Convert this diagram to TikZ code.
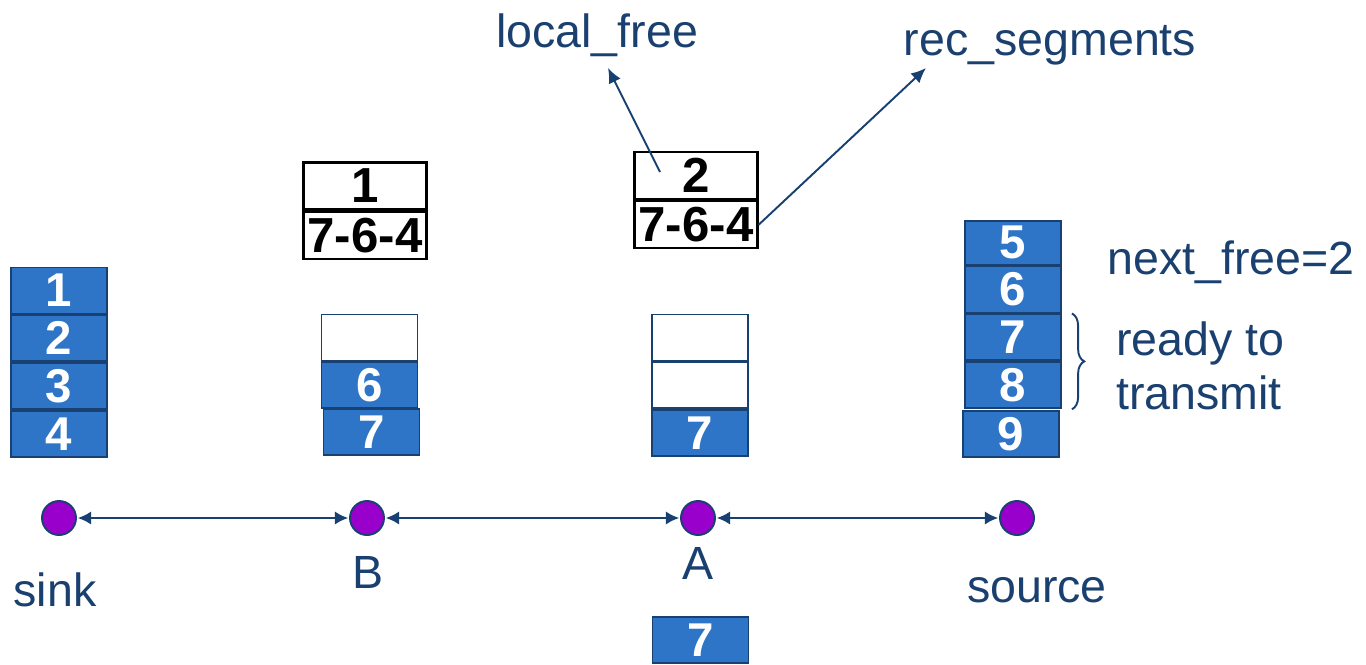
\documentclass[tikz,border=0pt]{standalone}
\usepackage{fontspec}
\setmainfont{Liberation Sans}
\usetikzlibrary{arrows.meta,decorations.pathreplacing,positioning}

\definecolor{segblue}{RGB}{46,117,200}
\definecolor{segedge}{RGB}{24,64,112}
\definecolor{inkblue}{RGB}{26,64,112}
\definecolor{hostpurple}{RGB}{153,0,204}

\begin{document}
\begin{tikzpicture}[
  x=0.02cm, y=-0.02cm,
  node distance=0pt,
  seg/.style={draw=segedge, line width=1.1pt, fill=segblue, text=white,
    minimum width=1.92cm, minimum height=0.92cm, inner sep=0pt,
    font=\fontsize{27}{27}\selectfont\bfseries},
  slot/.style={seg, fill=white},
  tag/.style={draw=black, line width=1.3pt, fill=white, text=black,
    minimum width=2.46cm, minimum height=0.94cm, inner sep=0pt,
    font=\fontsize{28}{28}\selectfont\bfseries},
  host/.style={circle, draw=segedge, line width=1.1pt, fill=hostpurple,
    minimum size=0.68cm, inner sep=0pt},
  lbl/.style={text=inkblue, inner sep=0pt, font=\fontsize{26.5}{31}\selectfont},
  link/.style={{Latex[length=7.5pt,width=7.5pt]}-{Latex[length=7.5pt,width=7.5pt]},
    draw=segedge, line width=1.1pt, shorten <=0.5pt, shorten >=0.5pt},
  ptr/.style={-{Latex[length=8.5pt,width=7.5pt]}, draw=segedge, line width=1.1pt},
  curly/.style={decorate, decoration={brace, amplitude=7pt},
    draw=segedge, line width=1.1pt}
]
\useasboundingbox (0,0) rectangle (1366,664);

% sink buffer
\node[seg] (k1) at (59,290.5) {1};
\node[seg, below=of k1] (k2) {2};
\node[seg, below=of k2] (k3) {3};
\node[seg, below=of k3] (k4) {4};

% node B
\node[tag] (bt1) at (365,186) {1};
\node[tag, below=of bt1] (bt2) {7-6-4};
\node[slot] (b0) at (369.5,337.5) {};
\node[seg, below=of b0] (b6) {6};
\node[seg] (b7) at (371.5,432) {7};

% node A
\node[tag] (at1) at (696,175.5) {2};
\node[tag, below=of at1] (at2) {7-6-4};
\node[slot] (a0) at (700,337.5) {};
\node[slot, below=of a0] (a1) {};
\node[seg, below=of a1] (a7) {7};
\node[seg] (out7) at (700.5,640) {7};

% source buffer
\node[seg] (r6) at (1013,289.5) {6};
\node[seg, above=of r6, minimum height=0.88cm] (r5) {5};
\node[seg, below=of r6] (r7) {7};
\node[seg, below=of r7] (r8) {8};
\node[seg] (r9) at (1011,434) {9};

% the chain
\node[host] (sink) at (59,518) {};
\node[host] (nB) at (367,518) {};
\node[host] (nA) at (698,518) {};
\node[host] (src) at (1017,518) {};
\draw[link] (sink) -- (nB);
\draw[link] (nB) -- (nA);
\draw[link] (nA) -- (src);

\node[lbl] (sinkname) at (55,590) {sink};
\node[lbl] (bname) at (368,572) {B};
\node[lbl] (aname) at (698,563) {A};
\node[lbl] (srcname) at (1037,590) {source};

% state of the source
\node[lbl, anchor=west] (nf) at (1107,262) {next\_free=2};
\draw[curly] ([xshift=0.2cm]r7.north east) -- ([xshift=0.2cm]r8.south east);
\node[lbl, anchor=west, align=left] (ready) at (1116,366) {ready to\\transmit};

% fields of A
\node[lbl] (lf) at (597,35) {local\_free};
\node[lbl] (rs) at (1050,45) {rec\_segments};
\coordinate (lftail) at (660,172);
\coordinate (lftip) at (608,68);
\coordinate (rstip) at (926,68);
\draw[ptr] (lftail) -- (lftip);
\draw[ptr] (at2.east) -- (rstip);
\end{tikzpicture}
\end{document}
